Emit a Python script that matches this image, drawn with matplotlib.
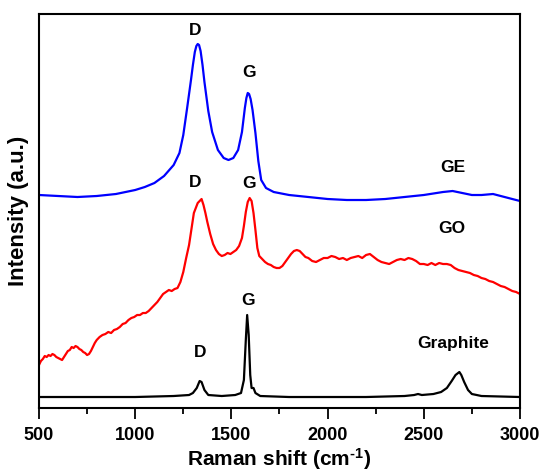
import numpy as np
import matplotlib
matplotlib.use("Agg")
import matplotlib.pyplot as plt
from matplotlib.ticker import MultipleLocator

plt.rcParams['font.family'] = ['Liberation Sans', 'DejaVu Sans']
plt.rcParams['font.weight'] = 'bold'
plt.rcParams['mathtext.fontset'] = 'custom'
plt.rcParams['mathtext.rm'] = 'Liberation Sans:bold'
plt.rcParams['mathtext.bf'] = 'Liberation Sans:bold'
plt.rcParams['mathtext.default'] = 'bf'

# GE (blue)
ge_shift = [500, 600, 700, 800, 900, 1000, 1050, 1100, 1150, 1200, 1230, 1250, 1270,
            1290, 1300, 1310, 1318, 1325, 1332, 1340, 1350, 1360, 1380, 1400, 1430,
            1460, 1485, 1510, 1535, 1555, 1570, 1578, 1585, 1592, 1600, 1610, 1625,
            1640, 1655, 1680, 1720, 1800, 1900, 2000, 2100, 2200, 2300, 2400, 2500,
            2600, 2650, 2700, 2750, 2800, 2860, 2920, 3000]
ge_int = [213, 212, 211, 212, 214, 218, 221, 225, 232, 243, 255, 273, 300,
          328, 343, 356, 362, 364, 363, 357, 343, 326, 297, 276, 258,
          250, 248, 250, 258, 276, 300, 310, 315, 314, 309, 298, 275,
          247, 228, 220, 216, 213, 211, 209, 208, 208, 209, 211, 213,
          216, 217, 215, 213, 213, 214, 211, 207]

# GO (red)
go_shift = [500, 510, 520, 530, 540, 550, 560, 570, 580, 590, 600, 610, 620, 630, 640,
            650, 660, 670, 680, 690, 700, 710, 720, 730, 740, 750, 760, 770, 780, 790,
            800, 815, 830, 845, 860, 875, 890, 905, 920, 935, 950, 965, 980, 995, 1010,
            1025, 1040, 1055, 1070, 1085, 1100, 1115, 1130, 1145, 1160, 1175, 1190,
            1205, 1220, 1235, 1250, 1265, 1280, 1295, 1305, 1315, 1325, 1335, 1345,
            1355, 1365, 1375, 1390, 1405, 1420, 1435, 1450, 1465, 1480, 1495, 1510,
            1525, 1540, 1555, 1565, 1575, 1585, 1595, 1605, 1615, 1625, 1635, 1645,
            1660, 1675, 1690, 1705, 1720, 1735, 1750, 1765, 1780, 1795, 1810, 1825,
            1840, 1855, 1870, 1885, 1900, 1920, 1940, 1960, 1980, 2000, 2020, 2040,
            2060, 2080, 2100, 2120, 2140, 2160, 2180, 2200, 2220, 2240, 2260, 2280,
            2300, 2320, 2340, 2360, 2380, 2400, 2420, 2440, 2460, 2480, 2500, 2520,
            2540, 2560, 2580, 2600, 2620, 2640, 2660, 2680, 2700, 2720, 2740, 2760,
            2780, 2800, 2820, 2840, 2860, 2880, 2900, 2920, 2940, 2960, 2980, 3000]
go_int = [43, 47, 49, 52, 51, 53, 52, 54, 53, 51, 50, 49, 48, 51, 54,
          57, 58, 61, 60, 62, 61, 59, 58, 56, 55, 53, 54, 57, 61, 65,
          68, 71, 73, 74, 76, 75, 78, 79, 81, 84, 85, 88, 90, 91, 93,
          93, 95, 95, 97, 100, 103, 106, 110, 114, 116, 118, 117,
          119, 120, 126, 136, 150, 163, 182, 195, 200, 205, 207, 209,
          203, 195, 186, 174, 164, 158, 154, 152, 153, 155, 154, 156,
          158, 162, 170, 182, 196, 206, 210, 207, 195, 178, 160, 152,
          149, 146, 144, 143, 141, 140, 140, 142, 146, 150, 154, 157,
          158, 157, 154, 151, 150, 147, 146, 148, 150, 150, 152, 151,
          149, 150, 148, 150, 151, 152, 150, 153, 154, 151, 148, 146,
          145, 144, 146, 148, 149, 148, 150, 149, 147, 144, 144, 143,
          145, 143, 145, 144, 144, 143, 140, 138, 137, 136, 135, 133,
          132, 130, 129, 127, 126, 124, 122, 121, 119, 117, 116, 114]

# Graphite (black)
gr_shift = [500, 800, 1000, 1200, 1280, 1300, 1320, 1335, 1345, 1360, 1380, 1450,
            1520, 1550, 1565, 1575, 1582, 1590, 1598, 1605, 1615, 1625, 1650, 1800,
            2000, 2200, 2400, 2450, 2470, 2490, 2550, 2590, 2620, 2645, 2665, 2685,
            2695, 2710, 2730, 2750, 2800, 3000]
gr_int = [11, 11, 11, 12, 13, 15, 20, 27, 26, 18, 13, 12,
          13, 15, 28, 68, 93, 73, 33, 20, 20, 15, 12, 11,
          11, 11, 12, 13, 14, 13, 14, 16, 20, 27, 33, 36,
          33, 26, 18, 14, 12, 11]

fig = plt.figure(figsize=(5.43, 4.73), dpi=100)
ax = fig.add_axes([0.0718, 0.1374, 0.8858, 0.833])

ax.plot(ge_shift, ge_int, color='blue', lw=1.6)
ax.plot(go_shift, go_int, color='red', lw=1.6)
ax.plot(gr_shift, gr_int, color='black', lw=1.6)

ax.set_xlim(500, 3000)
ax.set_ylim(0, 394)
ax.set_yticks([])
ax.xaxis.set_major_locator(MultipleLocator(500))
ax.xaxis.set_minor_locator(MultipleLocator(250))
ax.tick_params(axis='x', which='major', direction='out', length=8, width=1.3, labelsize=13, pad=6)
ax.tick_params(axis='x', which='minor', direction='out', length=4, width=1.3)
for lab in ax.get_xticklabels():
    lab.set_fontweight('bold')
for s in ax.spines.values():
    s.set_linewidth(1.5)

ax.set_xlabel(r'Raman shift (cm$^{\text{-1}}$)', fontsize=15, fontweight='bold', labelpad=1)
ax.set_ylabel('Intensity (a.u.)', fontsize=16, fontweight='bold', labelpad=7)

kw = dict(ha='center', va='center', fontsize=12.5, fontweight='bold')
ax.text(1311, 378, 'D', **kw)
ax.text(1591, 336, 'G', **kw)
ax.text(2652, 241, 'GE', **kw)
ax.text(1311, 226, 'D', **kw)
ax.text(1591, 225, 'G', **kw)
ax.text(2647, 180, 'GO', **kw)
ax.text(1337, 56, 'D', **kw)
ax.text(1586, 108, 'G', **kw)
ax.text(2652, 65, 'Graphite', **kw)

fig.savefig('out.png', dpi=100)
